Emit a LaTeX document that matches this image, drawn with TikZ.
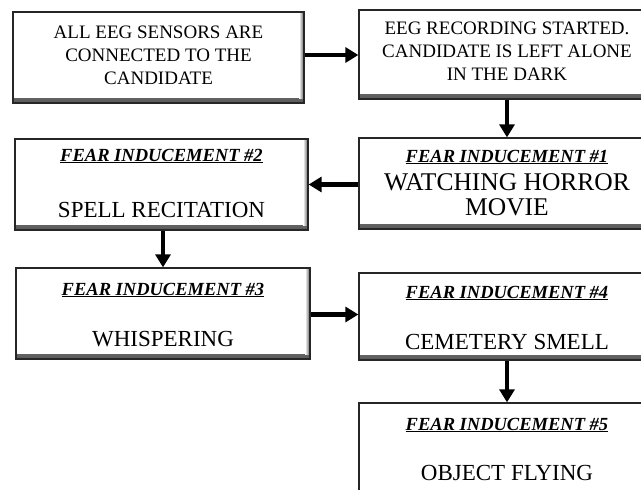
\documentclass[tikz,border=0pt]{standalone}
\usepackage{fontspec}
\setmainfont{Liberation Serif}
\usetikzlibrary{arrows.meta}
\tikzset{
  box/.style={draw=black!85, line width=1.3pt, fill=white, inner sep=0pt,
    path picture={
      \shade[top color=white, bottom color=black!65]
        ([yshift=5pt]path picture bounding box.south west) rectangle (path picture bounding box.south east);
      \shade[left color=white, right color=black!65]
        ([xshift=-5pt]path picture bounding box.north east) rectangle ([yshift=5pt]path picture bounding box.south east);
    }},
  small/.style={font=\fontsize{19}{23}\selectfont, align=center, inner sep=0pt},
  body/.style={font=\fontsize{23}{24}\selectfont, align=center, inner sep=0pt},
  bigbody/.style={font=\fontsize{25.5}{25}\selectfont, align=center, inner sep=0pt},
  title/.style={font=\fontsize{18.5}{20}\selectfont\bfseries\itshape, inner sep=0pt},
  arr/.style={line width=4.5pt, -{Triangle[length=13pt,width=15pt]}}
}
\newcommand{\ttl}[1]{\underline{#1}}
\begin{document}
\begin{tikzpicture}[x=1pt,y=-1pt]
\useasboundingbox (0,0) rectangle (641,490);
% boxes
\node[box, minimum width=291pt, minimum height=91pt] (b1) at (158.5,57.5) {};
\node[box, minimum width=296pt, minimum height=89pt] (b2) at (507,54.5) {};
\node[box, minimum width=296pt, minimum height=91pt] (f1) at (507,183.5) {};
\node[box, minimum width=293pt, minimum height=91pt] (f2) at (161.5,184.5) {};
\node[box, minimum width=294pt, minimum height=91pt] (f3) at (163,313.5) {};
\node[box, minimum width=296pt, minimum height=87pt] (f4) at (507,316.5) {};
\node[box, minimum width=296pt, minimum height=92pt] (f5) at (507,449) {};
% texts
\node[small] (t1) at (158.5,55) {ALL EEG SENSORS ARE\\CONNECTED TO THE\\CANDIDATE};
\node[small] (t2) at (507,51) {EEG RECORDING STARTED.\\CANDIDATE IS LEFT ALONE\\IN THE DARK};
\node[title] (h1) at (507,157) {\ttl{FEAR INDUCEMENT \#1}};
\node[bigbody] (t3) at (507,195) {WATCHING HORROR\\MOVIE};
\node[title] (h2) at (161.5,156) {\ttl{FEAR INDUCEMENT \#2}};
\node[body] (t4) at (161.5,210) {SPELL RECITATION};
\node[title] (h3) at (163,290) {\ttl{FEAR INDUCEMENT \#3}};
\node[body] (t5) at (163,339) {WHISPERING};
\node[title] (h4) at (507,293) {\ttl{FEAR INDUCEMENT \#4}};
\node[body] (t6) at (507,342) {CEMETERY SMELL};
\node[title] (h5) at (507,425) {\ttl{FEAR INDUCEMENT \#5}};
\node[body] (t7) at (507,473) {OBJECT FLYING};
% arrows
\draw[arr] ([yshift=2.5pt]b1.east) -- ([yshift=2.5pt]b1.east -| b2.west);
\draw[arr] (b2.south) -- (f1.north);
\draw[arr] ([yshift=-1pt]f1.west) -- ([yshift=-1pt]f1.west -| f2.east);
\draw[arr] (f2.south -| f3.north) -- (f3.north);
\draw[arr] ([yshift=-1pt]f3.east) -- ([yshift=-1pt]f3.east -| f4.west);
\draw[arr] (f4.south) -- (f5.north);
\end{tikzpicture}
\end{document}
